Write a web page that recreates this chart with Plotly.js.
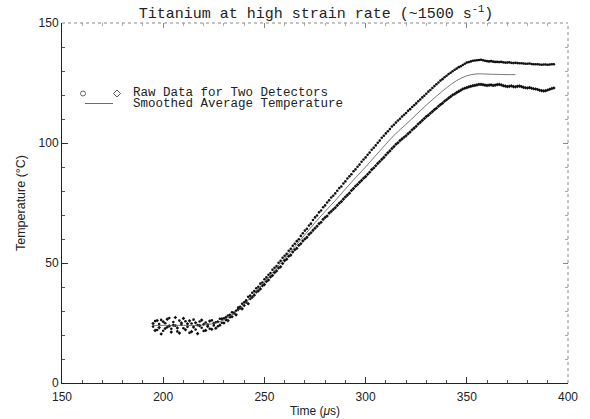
<!DOCTYPE html>
<html>
<head>
<meta charset="utf-8">
<script src="https://cdn.plot.ly/plotly-3.0.1.min.js"></script>
<style>html,body{margin:0;padding:0;background:#fff;}#chart{width:590px;height:419px;}</style>
</head>
<body>
<div id="chart"></div>
<script>
// Time samples (µs) shared by both detectors
const timeUs = [
195,196,197,198,199,200,201,202,203,204,
205,206,207,208,209,210,211,212,213,214,
215,216,217,218,219,220,221,222,223,224,
225,226,227,228,229,230,231,232,233,234,
235,236,237,238,239,240,241,242,243,244,
245,246,247,248,249,250,251,252,253,254,
255,256,257,258,259,260,261,262,263,264,
265,266,267,268,269,270,271,272,273,274,
275,276,277,278,279,280,281,282,283,284,
285,286,287,288,289,290,291,292,293,294,
295,296,297,298,299,300,301,302,303,304,
305,306,307,308,309,310,311,312,313,314,
315,316,317,318,319,320,321,322,323,324,
325,326,327,328,329,330,331,332,333,334,
335,336,337,338,339,340,341,342,343,344,
345,346,347,348,349,350,351,352,353,354,
355,356,357,358,359,360,361,362,363,364,
365,366,367,368,369,370,371,372,373,374,
375,376,377,378,379,380,381,382,383,384,
385,386,387,388,389,390,391,392,393];

// Detector 1 (upper branch) temperature, °C
const detector1 = [
23.5,25.8,22.1,24.6,26.3,21.8,24.9,23.2,27.1,22.6,
25.4,23.9,21.5,26.0,24.3,22.8,25.7,23.4,20.9,24.8,
26.4,22.3,24.1,25.6,23.0,21.7,25.2,24.4,22.6,26.1,
24.0,25.3,23.6,26.8,25.1,27.0,26.2,28.1,27.4,29.5,
29.2,30.1,31.4,31.8,33.0,33.6,34.5,35.9,36.4,37.6,
38.3,39.5,40.1,41.4,41.9,43.2,44.0,45.1,45.8,47.2,
48.0,48.7,50.1,50.9,52.2,53.0,53.8,55.1,55.9,57.2,
58.0,59.1,59.9,61.3,62.4,63.5,64.3,65.6,66.4,67.9,
69.0,69.8,71.1,71.9,73.2,74.0,75.2,76.1,77.3,78.0,
79.0,80.1,81.2,81.9,83.1,84.0,85.2,86.1,87.0,88.2,
89.0,90.1,91.0,92.2,93.1,94.0,95.1,96.0,97.2,98.0,
99.0,100.1,101.0,102.2,103.0,104.0,104.9,105.8,106.9,107.6,
108.5,109.4,110.1,111.0,111.8,112.5,113.4,114.1,115.0,115.7,
116.5,117.4,118.1,119.0,119.7,120.5,121.4,122.1,122.9,123.7,
124.5,125.2,126.0,126.6,127.4,128.0,128.7,129.3,129.9,130.5,
131.0,131.6,132.0,132.5,133.0,133.5,133.7,134.0,134.3,134.4,
134.5,134.6,134.7,134.5,134.3,134.1,134.0,134.1,133.9,133.8,
133.8,133.7,133.8,133.6,133.5,133.5,133.6,133.4,133.3,133.4,
133.3,133.2,133.2,133.1,133.0,133.0,133.1,132.9,132.8,132.8,
132.8,132.7,132.6,132.7,132.7,132.6,132.7,132.8,132.8];

// Detector 2 (lower branch) temperature, °C
const detector2 = [
24.8,21.9,26.0,23.1,20.4,25.5,22.7,26.6,23.8,21.2,
24.1,27.3,22.9,20.8,25.0,26.9,22.2,24.7,25.9,21.4,
23.3,25.1,20.6,23.9,26.2,24.5,21.9,23.6,25.8,22.4,
24.9,22.8,25.5,24.1,26.7,25.0,27.4,26.0,28.3,27.6,
29.1,28.4,30.6,31.2,30.9,32.3,33.7,33.0,35.1,35.8,
36.6,37.9,38.4,39.2,40.5,41.0,42.3,42.9,44.2,44.8,
46.0,46.7,47.9,48.4,49.8,51.0,51.6,52.8,53.3,54.6,
55.5,56.1,57.4,58.0,59.2,60.0,60.7,61.9,62.6,63.6,
64.5,65.3,66.4,67.0,68.2,69.0,69.6,70.8,71.5,72.3,
73.0,74.0,74.9,75.6,76.6,77.5,78.3,79.1,80.2,81.0,
82.0,82.7,83.6,84.4,85.3,86.0,87.0,87.8,88.9,89.6,
90.5,91.5,92.3,93.2,94.0,95.0,95.9,96.7,97.7,98.5,
99.5,100.1,101.0,101.7,102.4,103.0,103.9,104.6,105.5,106.2,
107.0,107.9,108.6,109.4,110.2,111.0,111.6,112.4,113.1,113.9,
114.5,115.3,116.0,116.6,117.4,118.0,118.7,119.3,120.0,120.4,
121.0,121.5,122.0,122.5,122.8,123.1,123.4,123.6,123.9,124.0,
124.2,124.4,124.4,124.3,124.1,124.0,124.1,124.2,124.0,124.1,
124.3,124.4,124.2,123.9,123.7,123.5,123.6,123.8,123.5,123.4,
123.6,123.7,123.5,123.2,123.0,122.9,123.1,122.8,122.6,122.5,
122.3,122.0,121.8,121.7,121.8,122.1,122.4,122.7,122.9];

// Smoothed average temperature
const smoothTime = [195,200,205,210,215,220,225,230,235,240,245,250,255,260,265,270,275,280,285,290,295,300,305,310,315,320,325,330,335,340,345,350,355,360,365,370,374];
const smoothTemp = [24.0,24.0,24.0,24.0,24.0,24.2,24.8,26.3,29.0,32.8,37.3,42.0,47.0,52.0,56.8,61.8,66.8,71.5,76.0,80.8,85.5,90.0,94.8,99.5,104.0,107.8,111.8,115.8,119.5,123.0,126.0,128.0,128.8,128.7,128.6,128.5,128.5];

const xTicks = [150,200,250,300,350,400];
const yTicks = [0,50,100,150];
const legendLabels = ['Raw Data for Two Detectors','Smoothed Average Temperature'];

const traces = [
  {x: timeUs, y: detector1, type:'scatter', mode:'markers', marker:{symbol:'circle', size:2.6, color:'#111'}, showlegend:false, hoverinfo:'skip'},
  {x: timeUs, y: detector2, type:'scatter', mode:'markers', marker:{symbol:'diamond', size:2.8, color:'#111'}, showlegend:false, hoverinfo:'skip'},
  {x: smoothTime, y: smoothTemp, type:'scatter', mode:'lines', line:{color:'#555', width:0.8, shape:'spline'}, showlegend:false, hoverinfo:'skip'},
  {x: [], y: [], xaxis:'x2', yaxis:'y2', type:'scatter', mode:'markers', showlegend:false}
];

const tickFont = {family:'Liberation Sans, Arial, sans-serif', size:12, color:'#222'};
const monoFont = 'Liberation Mono, Courier New, monospace';

// plot area in px: left 62, right 568, top 23, bottom 383
const L = 62, R = 568, T = 23, B = 383;
const px = v => (v - L) / (R - L);
const py = v => (B - v) / (B - T);

const layout = {
  width:590, height:419,
  margin:{l:L, r:590-R, t:T, b:419-B, pad:0},
  paper_bgcolor:'#fff', plot_bgcolor:'#fff',
  title:{text:'Titanium at high strain rate (~1500 s<sup>-1</sup>)', font:{family:monoFont, size:15, color:'#222'}, x:316/590, xanchor:'center', y:1-13/419, yanchor:'middle'},
  xaxis:{range:[150,400], tickvals:xTicks, ticktext:xTicks.map(String), ticks:'inside', ticklen:6, tickwidth:1, tickcolor:'#333',
    minor:{dtick:10, ticks:'inside', ticklen:3, tickcolor:'#555', showgrid:false},
    showline:true, linecolor:'#222', linewidth:1, showgrid:false, zeroline:false, tickfont:tickFont, ticklabelstandoff:3,
    title:{text:'Time (<i>μ</i>s)', font:{family:'Liberation Sans, Arial, sans-serif', size:12, color:'#222'}, standoff:3}},
  yaxis:{range:[0,150], tickvals:yTicks, ticktext:yTicks.map(String), ticks:'inside', ticklen:6, tickwidth:1, tickcolor:'#333',
    minor:{dtick:10, ticks:'inside', ticklen:3, tickcolor:'#555', showgrid:false},
    showline:true, linecolor:'#222', linewidth:1, showgrid:false, zeroline:false, tickfont:tickFont,
    title:{text:'Temperature (°C)', font:{family:'Liberation Sans, Arial, sans-serif', size:12.5, color:'#222'}, standoff:10}},
  xaxis2:{range:[150,400], overlaying:'x', side:'top', tickvals:xTicks, ticktext:xTicks.map(String), ticks:'inside', ticklen:5, tickcolor:'#888', showticklabels:false,
    minor:{dtick:10, ticks:'inside', ticklen:3, tickcolor:'#aaa'}, showline:false, showgrid:false, zeroline:false},
  yaxis2:{range:[0,150], overlaying:'y', side:'right', tickvals:yTicks, ticktext:yTicks.map(String), ticks:'inside', ticklen:5, tickcolor:'#888', showticklabels:false,
    minor:{dtick:10, ticks:'inside', ticklen:3, tickcolor:'#aaa'}, showline:false, showgrid:false, zeroline:false},
  shapes:[
    {type:'line', xref:'paper', yref:'paper', x0:0, x1:1, y0:1, y1:1, line:{color:'#888', width:1, dash:'dot'}},
    {type:'line', xref:'paper', yref:'paper', x0:1, x1:1, y0:0, y1:1, line:{color:'#888', width:1, dash:'dot'}},
    {type:'circle', xref:'paper', yref:'paper', x0:px(80.5), x1:px(85.5), y0:py(96), y1:py(91), line:{color:'#444', width:0.8}},
    {type:'path', xref:'paper', yref:'paper', path:`M ${px(117)} ${py(90)} L ${px(120.5)} ${py(93.5)} L ${px(117)} ${py(97)} L ${px(113.5)} ${py(93.5)} Z`, line:{color:'#333', width:0.8}},
    {type:'line', xref:'paper', yref:'paper', x0:px(85), x1:px(113), y0:py(103.5), y1:py(103.5), line:{color:'#444', width:0.8}}
  ],
  annotations:[
    {xref:'paper', yref:'paper', x:px(131), y:py(92.5), xanchor:'left', yanchor:'middle', showarrow:false, text:legendLabels[0], font:{family:monoFont, size:12.5, color:'#222'}},
    {xref:'paper', yref:'paper', x:px(131), y:py(104), xanchor:'left', yanchor:'middle', showarrow:false, text:legendLabels[1], font:{family:monoFont, size:12.5, color:'#222'}}
  ]
};

Plotly.newPlot('chart', traces, layout, {displayModeBar:false, staticPlot:true});
</script>
</body>
</html>
